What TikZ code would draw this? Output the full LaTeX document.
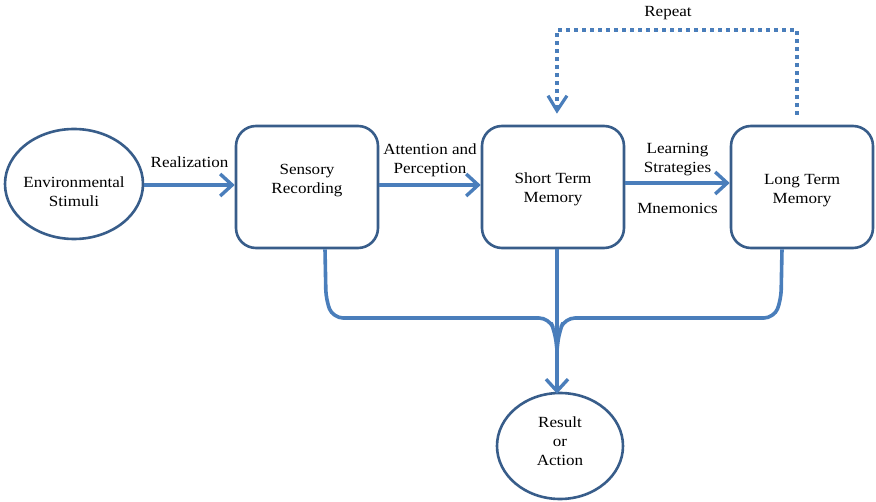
\documentclass[tikz,border=0pt]{standalone}
\usepackage{fontspec}
\setmainfont[FakeStretch=1.1]{Liberation Serif}
\usetikzlibrary{arrows.meta,shapes.geometric}
\definecolor{lineblue}{RGB}{74,126,187}
\definecolor{edgeblue}{RGB}{56,93,138}
\tikzset{
  stagebox/.style={draw=edgeblue,line width=2.6pt,rounded corners=20pt,minimum width=142pt,minimum height=122pt},
  endoval/.style={ellipse,draw=edgeblue,line width=2.6pt,inner sep=0pt},
  flow/.style={draw=lineblue,line width=3.6pt},
  flowarrow/.style={flow,-{Straight Barb[length=12pt,width=22pt,line width=3.4pt]}},
  loopline/.style={draw=lineblue,line width=4pt,dash pattern=on 4pt off 4pt}
}
\begin{document}
\begin{tikzpicture}[x=1pt,y=-1pt, every node/.style={font=\fontsize{15.5}{19}\selectfont,align=center}]
\useasboundingbox (0,0) rectangle (876,502);
% stages
\node[endoval,minimum width=138pt,minimum height=110pt,label={[yshift=-8pt]center:Environmental\\Stimuli}] (env) at (74,184) {};
\node[stagebox,label={[yshift=6pt]center:Sensory\\Recording}] (sr) at (307,187) {};
\node[stagebox,label={[yshift=-2pt]center:Short Term\\Memory}] (stm) at (553,187) {};
\node[stagebox,label={[yshift=-3.5pt]center:Long Term\\Memory}] (ltm) at (802,187) {};
\node[endoval,minimum width=126pt,minimum height=106pt,label={[yshift=5pt]center:Result\\or\\Action}] (res) at (560,446) {};
% forward arrows
\draw[flowarrow] (env.east |- 0,185) -- (sr.west |- 0,185) node[midway,above=12pt] {Realization};
\draw[flowarrow] (sr.east |- 0,185) -- (stm.west |- 0,185) node[midway,above=3pt] {Attention and\\Perception};
\draw[flowarrow] (stm.east |- 0,183) -- (ltm.west |- 0,183) node[midway,above=2pt] {Learning\\Strategies} node[midway,below=15pt] {Mnemonics};
% repeat loop
\coordinate (looptop) at (797,30);
\draw[loopline] ([xshift=-5pt,yshift=10pt]ltm.north) -- (looptop) -- (557,30) -- ([xshift=4pt,yshift=16pt]stm.north);
\draw[lineblue,line width=3.2pt] ([xshift=-5pt,yshift=29pt]stm.north) -- ([xshift=4pt,yshift=14pt]stm.north) -- ([xshift=14pt,yshift=29pt]stm.north);
\node at (668,13) {Repeat};
% to result
\coordinate (merge) at (557,350);
\draw[flowarrow] ([xshift=4pt]stm.south) -- ([xshift=-3pt,yshift=-2pt]res.north);
\draw[flow,rounded corners=10pt] ([xshift=18pt]sr.south) -- (326,300) -- (333,318) -- (549,318) -- (555,332) -- (merge);
\draw[flow,rounded corners=10pt] ([xshift=-20pt]ltm.south) -- (781,300) -- (774,318) -- (565,318) -- (559,332) -- (merge);
\end{tikzpicture}
\end{document}
